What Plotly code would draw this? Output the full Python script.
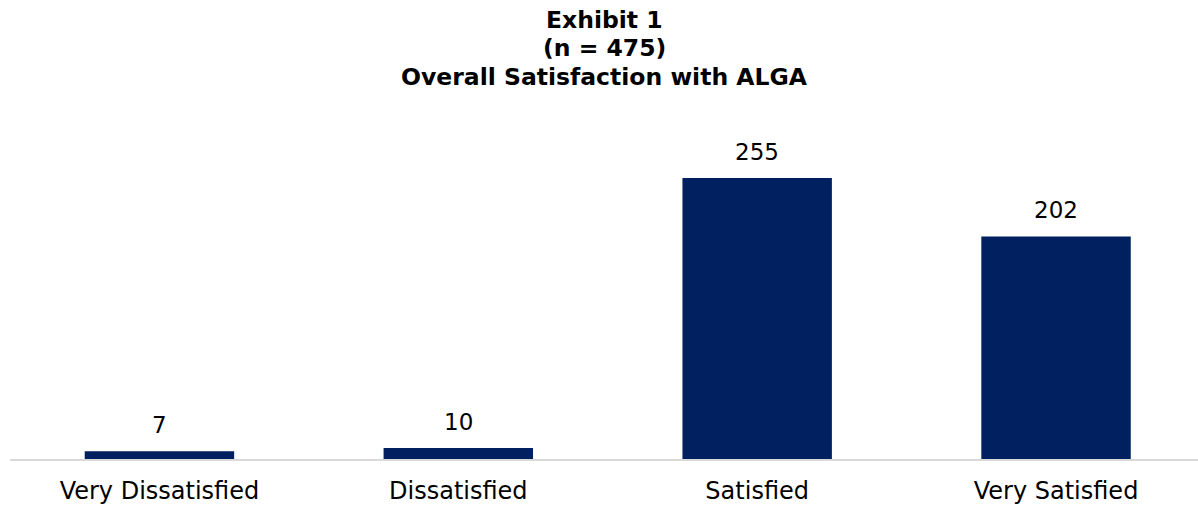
import plotly.graph_objects as go

categories = ["Very Dissatisfied", "Dissatisfied", "Satisfied", "Very Satisfied"]
counts = [7, 10, 255, 202]

title_lines = ["Exhibit 1", "(n = 475)", "Overall Satisfaction with ALGA"]

FONT = "DejaVu Sans"
PLOT_TOP, PLOT_BOTTOM = 100, 459
PLOT_H = PLOT_BOTTOM - PLOT_TOP

fig = go.Figure(
    go.Bar(
        x=categories,
        y=counts,
        width=0.5,
        marker=dict(color="#002060", line=dict(width=0)),
        hoverinfo="x+y",
    )
)

# value labels above each bar
for cat, val in zip(categories, counts):
    fig.add_annotation(
        x=cat, y=val, xref="x", yref="y",
        text=str(val), showarrow=False,
        yanchor="middle", yshift=26,
        font=dict(family=FONT, size=23, color="#000000"),
    )

# three-line bold heading
for line, py in zip(title_lines, [20, 48, 77]):
    fig.add_annotation(
        x=0.5, y=(PLOT_BOTTOM - py) / PLOT_H, xref="paper", yref="paper",
        text=f"<b>{line}</b>", showarrow=False,
        xanchor="center", yanchor="middle",
        font=dict(family=FONT, size=23.5, color="#000000"),
    )

fig.update_layout(
    width=1198,
    height=505,
    margin=dict(l=9.5, r=0, t=PLOT_TOP, b=505 - PLOT_BOTTOM),
    paper_bgcolor="white",
    plot_bgcolor="white",
    showlegend=False,
    xaxis=dict(
        range=[-0.5, 3.475],
        showgrid=False,
        showline=True,
        linecolor="#d9d9d9",
        linewidth=2,
        ticks="",
        tickfont=dict(family=FONT, size=24, color="#000000"),
        ticklabelstandoff=9,
    ),
    yaxis=dict(
        range=[0, PLOT_H / 1.102],
        visible=False,
        showgrid=False,
        zeroline=False,
    ),
)

fig.write_html("out.html")
